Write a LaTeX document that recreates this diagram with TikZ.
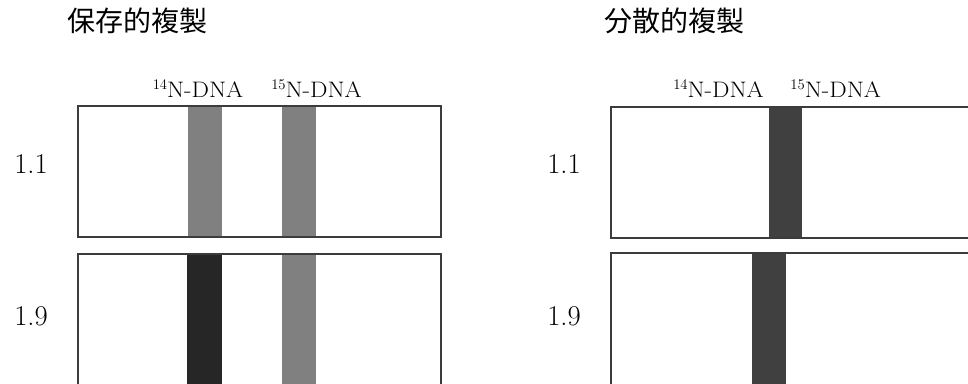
\documentclass[tikz,border=0pt]{standalone}
\usepackage{fontspec}
\newfontfamily\cjk{Noto Sans CJK JP}
\definecolor{bordercol}{HTML}{3C3C3C}
\definecolor{midgray}{HTML}{808080}
\definecolor{darkband}{HTML}{262626}
\definecolor{bandgray}{HTML}{404040}
\newcommand{\dnalabel}[1]{\raisebox{5.5pt}{\fontsize{11}{12}\selectfont #1}\scalebox{1.1}[1]{N-DNA}}
\tikzset{
  title/.style={font=\cjk\fontsize{21}{24}\selectfont, inner sep=0pt},
  ratio/.style={font=\fontsize{21.5}{23}\selectfont, inner sep=0pt},
  dna/.style={font=\fontsize{16.8}{18}\selectfont, inner sep=0pt, anchor=base},
  boxline/.style={draw=bordercol, line width=1.3pt}
}
\begin{document}
\begin{tikzpicture}[x=0.75pt,y=-0.75pt]
\useasboundingbox (0,0) rectangle (968,383);
\clip (0,0) rectangle (968,383);
\fill[white] (0,0) rectangle (968,383);
% titles
\node[title] (t1) at (137,21) {保存的複製};
\node[title] (t2) at (674.5,21) {分散的複製};
% ratio labels
\node[ratio] (l11) at (31,164.5) {1.1};
\node[ratio] (l19) at (31,316) {1.9};
\node[ratio] (r11) at (564,164.5) {1.1};
\node[ratio] (r19) at (564,316) {1.9};
% DNA labels
\node[dna] (a14) at (198,97) {\dnalabel{14}};
\node[dna] (a15) at (316.5,97) {\dnalabel{15}};
\node[dna] (b14) at (718.5,97) {\dnalabel{14}};
\node[dna] (b15) at (835.7,97) {\dnalabel{15}};
% left panel, top box
\fill[midgray] (188,106) rectangle (222,237);
\fill[midgray] (282,106) rectangle (316,237);
\draw[boxline] (78,106) rectangle (441,237);
% left panel, bottom box
\fill[darkband] (187,254) rectangle (222,400);
\fill[midgray] (282,254) rectangle (316,400);
\draw[boxline] (441,400) -- (441,254) -- (78,254) -- (78,400);
% right panel, top box
\fill[bandgray] (769,107) rectangle (802,238);
\draw[boxline] (1000,107) -- (611,107) -- (611,238) -- (1000,238);
% right panel, bottom box
\fill[bandgray] (752,253) rectangle (786,400);
\draw[boxline] (1000,253) -- (611,253) -- (611,400);
\end{tikzpicture}
\end{document}
